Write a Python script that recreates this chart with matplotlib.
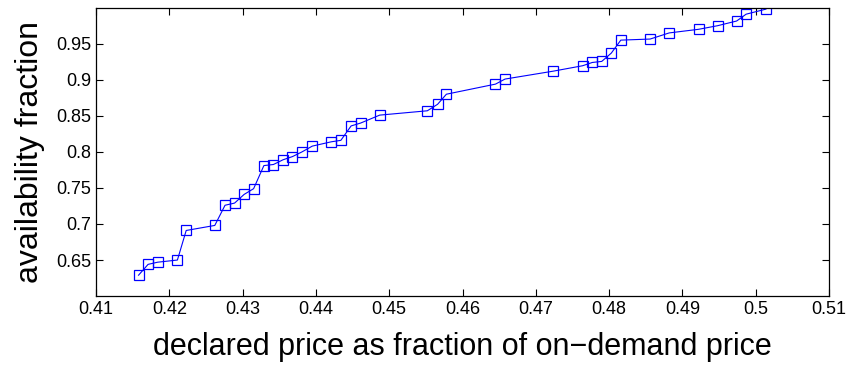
import matplotlib
matplotlib.use("Agg")
import matplotlib.pyplot as plt
from matplotlib.ticker import FuncFormatter

# declared price (fraction of on-demand) vs availability fraction
price = [0.4158, 0.4171, 0.4184, 0.4211, 0.4223, 0.4262, 0.4276, 0.4289,
         0.4302, 0.4315, 0.4329, 0.4342, 0.4355, 0.4368, 0.4381, 0.4395,
         0.4421, 0.4434, 0.4448, 0.4461, 0.4487, 0.4552, 0.4566, 0.4578,
         0.4645, 0.4658, 0.4724, 0.4764, 0.4777, 0.4790, 0.4803, 0.4816,
         0.4856, 0.4882, 0.4922, 0.4948, 0.4974, 0.4987, 0.5014]
availability = [0.629, 0.644, 0.647, 0.650, 0.691, 0.698, 0.726, 0.729,
                0.741, 0.749, 0.781, 0.7825, 0.789, 0.7935, 0.800, 0.808,
                0.814, 0.816, 0.836, 0.840, 0.851, 0.857, 0.866, 0.880,
                0.894, 0.901, 0.912, 0.9195, 0.924, 0.9255, 0.937, 0.955,
                0.9565, 0.965, 0.970, 0.975, 0.9815, 0.991, 0.998]

xticks = [0.41, 0.42, 0.43, 0.44, 0.45, 0.46, 0.47, 0.48, 0.49, 0.50, 0.51]
yticks = [0.65, 0.70, 0.75, 0.80, 0.85, 0.90, 0.95]

plt.rcParams['font.family'] = ['Liberation Sans', 'DejaVu Sans']

fig = plt.figure(figsize=(8.47, 3.66), dpi=100)
ax = fig.add_axes([0.1134, 0.191, 0.8653, 0.788])

ax.plot(price, availability, color='blue', linewidth=0.8, marker='s',
        markersize=7.5, markerfacecolor='none', markeredgecolor='blue',
        markeredgewidth=0.9)

ax.set_xlim(0.41, 0.51)
ax.set_ylim(0.6, 1.0)
ax.set_xticks(xticks)
ax.set_yticks(yticks)
fmt = FuncFormatter(lambda v, p: '%g' % round(v, 2))
ax.xaxis.set_major_formatter(fmt)
ax.yaxis.set_major_formatter(fmt)
ax.tick_params(direction='in', top=True, right=True, labelsize=13,
               length=5, width=0.8)
for s in ax.spines.values():
    s.set_linewidth(0.9)

ax.set_xlabel('declared price as fraction of on\u2212demand price', fontsize=22,
              labelpad=10)
ax.set_ylabel('availability fraction', fontsize=23, labelpad=8)

fig.savefig('out.png', dpi=100)
